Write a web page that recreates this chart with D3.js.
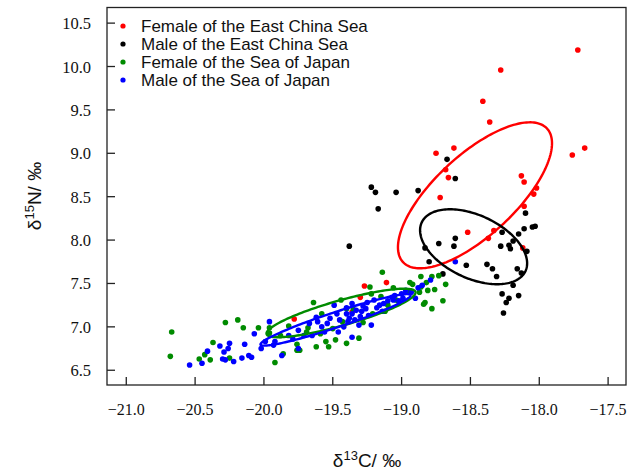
<!DOCTYPE html>
<html>
<head>
<meta charset="utf-8">
<script src="https://cdn.jsdelivr.net/npm/d3@7"></script>
<style>
  body { margin: 0; background: #fff; }
  .serif { font-family: 'Times New Roman', 'Liberation Serif', 'DejaVu Serif', 'Noto Serif', serif; }
</style>
</head>
<body>
<div class="canvas"></div>
<script>
// ---------------- data (δ13C, δ15N)
const groups = ["Female of the East China Sea", "Male of the East China Sea",
                "Female of the Sea of Japan", "Male of the Sea of Japan"];
const colors = ["#ff0000", "#000000", "#008b00", "#0000ff"];

const femaleECS = [
  [-17.72, 10.19], [-18.28, 9.96], [-18.41, 9.60], [-18.36, 9.36], [-18.75, 9.00], [-18.62, 9.06],
  [-18.68, 8.81], [-18.66, 8.72], [-18.72, 8.49], [-18.52, 8.09], [-18.37, 8.02], [-18.33, 8.11],
  [-18.13, 8.74], [-18.11, 8.67], [-18.02, 8.60], [-18.04, 8.53], [-18.11, 8.39], [-18.12, 7.91],
  [-17.76, 8.98], [-17.67, 9.06], [-19.11, 7.51], [-19.27, 7.47], [-19.30, 7.34], [-19.78, 7.09],
  [-19.36, 7.17]
];
const maleECS = [
  [-18.67, 8.93], [-18.61, 8.71], [-19.22, 8.61], [-19.19, 8.55], [-19.04, 8.55], [-18.88, 8.57],
  [-19.17, 8.36], [-19.38, 7.93], [-18.10, 8.31], [-18.03, 8.16], [-18.05, 8.15], [-18.11, 8.13],
  [-18.15, 8.07], [-18.27, 8.09], [-18.19, 7.99], [-18.22, 7.94], [-18.21, 7.90], [-18.28, 7.93],
  [-18.09, 7.87], [-18.61, 8.02], [-18.62, 7.93], [-18.73, 7.96], [-18.83, 7.91], [-18.80, 7.75],
  [-18.70, 7.61], [-18.53, 7.71], [-18.38, 7.72], [-18.34, 7.67], [-18.31, 7.58], [-18.16, 7.67],
  [-18.13, 7.62], [-18.19, 7.48], [-18.27, 7.38], [-18.22, 7.33], [-18.24, 7.28], [-18.15, 7.36],
  [-18.26, 7.16]
];
const femaleSOJ = [
  [-20.67, 6.94], [-20.68, 6.66], [-20.28, 7.05], [-20.19, 7.08], [-20.15, 6.99], [-20.04, 6.99],
  [-20.37, 6.82], [-20.43, 6.68], [-20.47, 6.63], [-20.39, 6.62], [-20.25, 6.64],
  [-19.64, 7.28], [-19.96, 6.99], [-19.96, 6.93], [-19.82, 7.01], [-19.88, 6.90], [-19.69, 6.94],
  [-19.59, 6.92], [-19.44, 7.31], [-19.43, 7.06], [-19.48, 6.85], [-19.55, 6.83], [-19.62, 6.77],
  [-19.76, 6.80], [-19.76, 6.73], [-19.74, 6.73], [-19.40, 6.81], [-19.86, 6.69], [-19.53, 6.77],
  [-19.92, 6.59],
  [-19.14, 7.63], [-19.23, 7.46], [-19.22, 7.38], [-19.06, 7.45], [-18.94, 7.51], [-18.92, 7.49],
  [-18.86, 7.58], [-18.78, 7.58], [-18.73, 7.59], [-18.82, 7.51], [-18.86, 7.46], [-18.81, 7.42],
  [-18.76, 7.43], [-19.04, 7.31], [-19.02, 7.29], [-18.87, 7.40], [-18.83, 7.28], [-18.84, 7.26],
  [-18.70, 7.30], [-18.78, 7.21], [-19.10, 7.25], [-19.21, 7.15], [-19.31, 6.87], [-19.40, 7.21],
  [-18.68, 7.49],
  [-19.58, 7.15], [-19.35, 7.20], [-19.28, 7.05], [-19.50, 6.98], [-19.15, 7.35], [-19.68, 6.99],
  [-19.12, 7.18], [-18.95, 7.40]
];
const maleSOJ = [
  [-20.07, 6.92], [-20.32, 6.78], [-20.25, 6.81], [-20.26, 6.75], [-20.29, 6.71], [-20.41, 6.72],
  [-20.14, 6.80], [-20.30, 6.63], [-20.28, 6.62], [-20.22, 6.60], [-20.16, 6.64], [-20.11, 6.67],
  [-20.09, 6.65], [-20.54, 6.56], [-20.45, 6.58],
  [-19.96, 7.06], [-19.82, 6.90], [-19.75, 6.96], [-19.67, 7.04], [-19.61, 7.06], [-19.62, 7.11],
  [-19.54, 7.04], [-19.49, 7.25], [-19.47, 7.15], [-19.40, 7.15], [-19.38, 7.10], [-19.46, 6.94],
  [-19.56, 6.94], [-19.65, 6.90], [-19.71, 6.90], [-19.79, 6.86], [-19.92, 6.83], [-19.99, 6.83],
  [-20.02, 6.75], [-19.87, 6.67], [-19.93, 6.79], [-19.75, 6.75],
  [-18.79, 7.54], [-18.93, 7.40], [-18.90, 7.33], [-18.85, 7.48], [-19.00, 7.38], [-19.02, 7.30],
  [-18.99, 7.33], [-19.07, 7.34], [-19.06, 7.31], [-19.13, 7.27], [-19.16, 7.25], [-19.14, 7.18],
  [-19.20, 7.31], [-19.25, 7.28], [-19.26, 7.21], [-19.29, 7.18], [-19.36, 7.27], [-19.36, 7.15],
  [-19.34, 7.08], [-19.24, 7.13], [-19.31, 7.02], [-19.22, 7.02], [-19.39, 7.06], [-19.36, 6.88],
  [-18.61, 7.75],
  [-19.40, 7.22], [-19.33, 7.19], [-19.28, 7.24], [-19.30, 7.12], [-19.45, 7.08], [-19.52, 7.10],
  [-19.58, 7.00], [-19.42, 7.00], [-19.18, 7.22], [-19.10, 7.30], [-19.05, 7.36], [-18.97, 7.42],
  [-18.88, 7.45]
];

// standard ellipses: centre and covariance [sxx, sxy, syy]
const ellipseCenters = [[-18.467, 8.516], [-18.477, 7.923], [-19.44, 7.16], [-19.48, 7.08]];
const ellipseCov = [[0.3131, 0.3352, 0.7073], [0.1512, -0.0739, 0.1866],
                    [0.2931, 0.1279, 0.0782], [0.2971, 0.1538, 0.0881]];

const xTicks = [-21.0, -20.5, -20.0, -19.5, -19.0, -18.5, -18.0, -17.5];
const yTicks = [6.5, 7.0, 7.5, 8.0, 8.5, 9.0, 9.5, 10.0, 10.5];

//------------------------ sizes
const dims = { width: 627, height: 472 };
const plot = { left: 107, right: 626, top: 7.5, bottom: 385 };
const sans = 'Liberation Sans, Arial, sans-serif';

const svg = d3.select('.canvas')
  .append('svg')
  .attr('width', dims.width)
  .attr('height', dims.height);

const x = d3.scaleLinear().domain([-21.14, -17.37]).range([plot.left, plot.right]);
const y = d3.scaleLinear().domain([6.33, 10.68]).range([plot.bottom, plot.top]);
const fmt = d3.format('.1f');

// frame
svg.append('rect')
  .attr('x', plot.left).attr('y', plot.top)
  .attr('width', plot.right - plot.left).attr('height', plot.bottom - plot.top)
  .attr('fill', 'none').attr('stroke', '#222').attr('stroke-width', 1.3);

// x ticks (inward) + labels
const xAxis = svg.append('g');
xAxis.selectAll('line').data(xTicks).enter().append('line')
  .attr('x1', d => x(d)).attr('x2', d => x(d))
  .attr('y1', plot.bottom).attr('y2', plot.bottom - 8)
  .attr('stroke', '#222').attr('stroke-width', 1.3);
xAxis.selectAll('text').data(xTicks).enter().append('text')
  .attr('class', 'serif')
  .attr('x', d => x(d)).attr('y', 415)
  .attr('text-anchor', 'middle')
  .attr('font-size', 16).attr('fill', '#111')
  .text(d => fmt(d));

// y ticks (inward) + labels
const yAxis = svg.append('g');
yAxis.selectAll('line').data(yTicks).enter().append('line')
  .attr('x1', plot.left).attr('x2', plot.left + 8)
  .attr('y1', d => y(d)).attr('y2', d => y(d))
  .attr('stroke', '#222').attr('stroke-width', 1.3);
yAxis.selectAll('text').data(yTicks).enter().append('text')
  .attr('class', 'serif')
  .attr('x', 91).attr('y', d => y(d) + 6)
  .attr('text-anchor', 'end')
  .attr('font-size', 16.5).attr('fill', '#111')
  .text(d => fmt(d));

// axis titles
const xt = svg.append('text')
  .attr('font-family', sans).attr('font-size', 19).attr('fill', '#111')
  .attr('x', 367).attr('y', 467).attr('text-anchor', 'middle');
xt.append('tspan').text('δ');
xt.append('tspan').attr('font-size', 13).attr('dy', -7).text('13');
xt.append('tspan').attr('dy', 7).text('C/ ‰');

const yt = svg.append('text')
  .attr('font-family', sans).attr('font-size', 19).attr('fill', '#111')
  .attr('transform', 'translate(41,196) rotate(-90)').attr('text-anchor', 'middle');
yt.append('tspan').text('δ');
yt.append('tspan').attr('font-size', 13).attr('dy', -7).text('15');
yt.append('tspan').attr('dy', 7).text('N/ ‰');

// points
const series = [femaleECS, maleECS, femaleSOJ, maleSOJ];
const points = svg.append('g');
series.forEach((s, i) => {
  points.append('g').selectAll('circle').data(s).enter().append('circle')
    .attr('cx', d => x(d[0])).attr('cy', d => y(d[1]))
    .attr('r', 2.8)
    .attr('fill', colors[i]);
});

// ellipses from centre + covariance (Cholesky)
const line = d3.line().x(d => x(d[0])).y(d => y(d[1])).curve(d3.curveLinearClosed);
const angles = d3.range(0, 2 * Math.PI, Math.PI / 90);
ellipseCenters.forEach((c, i) => {
  const [sxx, sxy, syy] = ellipseCov[i];
  const a = Math.sqrt(sxx), b = sxy / a, cc = Math.sqrt(syy - b * b);
  const pts = angles.map(t => [c[0] + a * Math.cos(t), c[1] + b * Math.cos(t) + cc * Math.sin(t)]);
  svg.append('path')
    .attr('d', line(pts))
    .attr('fill', 'none')
    .attr('stroke', colors[i])
    .attr('stroke-width', 2.4);
});

// legend
const legend = svg.append('g')
  .attr('font-family', sans).attr('font-size', 17);
groups.forEach((g, i) => {
  const row = legend.append('g').attr('transform', `translate(0, ${26 + i * 18})`);
  row.append('circle').attr('cx', 123).attr('cy', 0).attr('r', 2.6).attr('fill', colors[i]);
  row.append('text').attr('x', 141).attr('y', 6).attr('fill', '#111').text(g);
});
</script>
</body>
</html>
